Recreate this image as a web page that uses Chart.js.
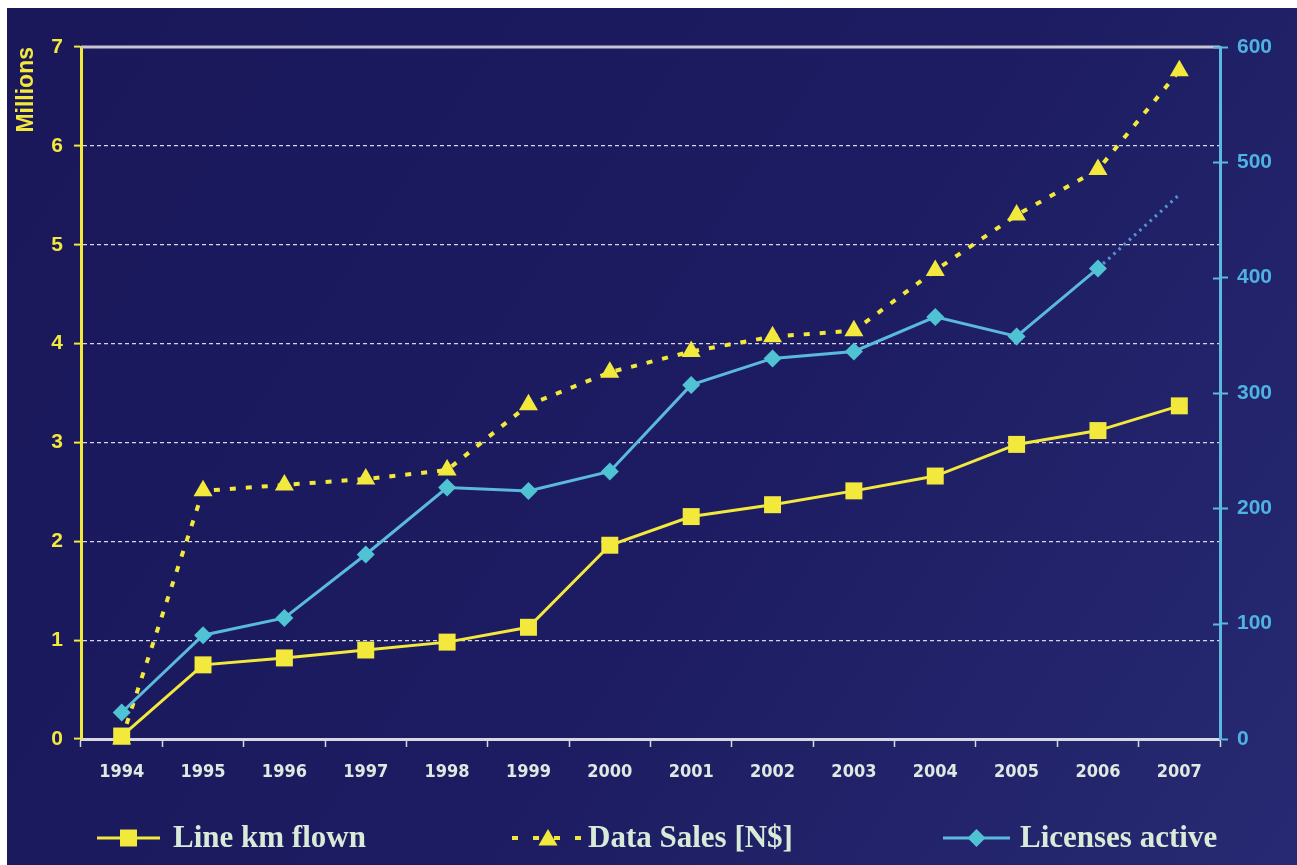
<!DOCTYPE html>
<html>
<head>
<meta charset="utf-8">
<title>Line km flown, Data Sales and Licenses active 1994-2007</title>
<script src="https://cdn.jsdelivr.net/npm/chart.js@4.4.1/dist/chart.umd.min.js"></script>
<style>
  html, body { margin: 0; padding: 0; background: #ffffff; }
  canvas { display: block; }
</style>
</head>
<body>
<canvas id="chart" width="1297" height="865"></canvas>
<script>
// ---- data ----
const years = ['1994', '1995', '1996', '1997', '1998', '1999', '2000',
               '2001', '2002', '2003', '2004', '2005', '2006', '2007'];

// millions (left axis)
const lineKmFlown = [0.03, 0.75, 0.82, 0.90, 0.98, 1.13, 1.96,
                     2.25, 2.37, 2.51, 2.66, 2.98, 3.12, 3.37];
const dataSales   = [0.00, 2.51, 2.57, 2.63, 2.72, 3.38, 3.71,
                     3.92, 4.07, 4.13, 4.74, 5.30, 5.76, 6.76];

// count (right axis)
const licensesActive = [23, 90, 105, 160, 218, 215, 232,
                        307, 330, 336, 366, 349, 408, null];
const licensesTrend  = [null, null, null, null, null, null, null,
                        null, null, null, null, null, 408, 472];

const leftTicks  = [0, 1, 2, 3, 4, 5, 6, 7];
const rightTicks = [0, 100, 200, 300, 400, 500, 600];

const seriesNames = ['Line km flown', 'Data Sales [N$]', 'Licenses active'];

// ---- styles ----
const YELLOW = '#f2e93c';
const BLUE_LINE = '#5bb9dd';
const BLUE_MARK = '#4fc3d4';
const BLUE_TREND = '#5393d8';
const BLUE_TEXT = '#4fb2e2';
const PALE_TEXT = '#d8ead8';
const sansFont = '"Liberation Sans", Arial, sans-serif';
const narrowFont = '"Liberation Sans Narrow", "Arial Narrow", "DejaVu Sans Condensed", "Liberation Sans", sans-serif';
const serifFont = '"Liberation Serif", "Times New Roman", serif';

// navy backdrop with a thin white margin on top and left
const backdrop = {
  id: 'backdrop',
  beforeDraw(chart) {
    const { ctx, width, height } = chart;
    ctx.save();
    ctx.fillStyle = '#ffffff';
    ctx.fillRect(0, 0, width, height);
    const g = ctx.createLinearGradient(7, 8, width, height);
    g.addColorStop(0, '#1a175a');
    g.addColorStop(0.55, '#1d1c62');
    g.addColorStop(1, '#272a72');
    ctx.fillStyle = g;
    ctx.fillRect(7, 8, width - 7, height - 8);
    ctx.restore();
  }
};

// solid top frame line and the inner half of the right-axis tick marks
const frame = {
  id: 'frame',
  beforeDatasetsDraw(chart) {
    const { ctx, chartArea } = chart;
    ctx.save();
    ctx.strokeStyle = '#c6c6d2';
    ctx.lineWidth = 3;
    ctx.beginPath();
    ctx.moveTo(chartArea.left, chartArea.top);
    ctx.lineTo(chartArea.right, chartArea.top);
    ctx.stroke();

    const yr = chart.scales.yRight;
    ctx.strokeStyle = BLUE_LINE;
    ctx.lineWidth = 2;
    rightTicks.forEach(v => {
      if (v === 0) return;
      const py = Math.round(yr.getPixelForValue(v)) + 0.5;
      ctx.beginPath();
      ctx.moveTo(chartArea.right - 7, py);
      ctx.lineTo(chartArea.right, py);
      ctx.stroke();
    });
    ctx.restore();
  }
};

function drawMarker(ctx, style, x, y, r, color) {
  ctx.save();
  ctx.fillStyle = color;
  ctx.beginPath();
  if (style === 'rect') {
    const s = Math.SQRT1_2 * r;
    ctx.rect(x - s, y - s, 2 * s, 2 * s);
  } else if (style === 'triangle') {
    let a = 0;
    ctx.moveTo(x + Math.sin(a) * r, y - Math.cos(a) * r);
    a += 2 * Math.PI / 3;
    ctx.lineTo(x + Math.sin(a) * r, y - Math.cos(a) * r);
    a += 2 * Math.PI / 3;
    ctx.lineTo(x + Math.sin(a) * r, y - Math.cos(a) * r);
    ctx.closePath();
  } else if (style === 'rectRot') {
    ctx.moveTo(x, y - r);
    ctx.lineTo(x + r, y);
    ctx.lineTo(x, y + r);
    ctx.lineTo(x - r, y);
    ctx.closePath();
  }
  ctx.fill();
  ctx.restore();
}

// legend row along the bottom: line sample, marker, name
const legendRow = {
  id: 'legendRow',
  afterDraw(chart) {
    const ctx = chart.ctx;
    const y = 838;
    const slots = [
      { ds: 0, x0: 97,  x1: 160,  tx: 173 },
      { ds: 1, x0: 512, x1: 584,  tx: 588 },
      { ds: 2, x0: 943, x1: 1010, tx: 1020 }
    ];
    slots.forEach(s => {
      const d = chart.data.datasets[s.ds];
      ctx.save();
      ctx.strokeStyle = d.borderColor;
      ctx.lineWidth = d.borderWidth;
      ctx.setLineDash(s.ds === 1 ? [6, 15] : (d.borderDash || []));
      ctx.beginPath();
      ctx.moveTo(s.x0, y);
      ctx.lineTo(s.x1, y);
      ctx.stroke();
      ctx.restore();
      drawMarker(ctx, d.pointStyle, (s.x0 + s.x1) / 2, s.ds === 1 ? y + 2 : y,
                 d.pointRadius, d.pointBackgroundColor);
      ctx.save();
      ctx.font = 'bold 31px ' + serifFont;
      ctx.fillStyle = PALE_TEXT;
      ctx.textBaseline = 'middle';
      ctx.textAlign = 'left';
      ctx.fillText(seriesNames[s.ds], s.tx, y + 1);
      ctx.restore();
    });
  }
};

new Chart(document.getElementById('chart'), {
  type: 'line',
  data: {
    labels: years,
    datasets: [
      {
        label: seriesNames[0],
        data: lineKmFlown,
        yAxisID: 'yLeft',
        borderColor: YELLOW,
        borderWidth: 3,
        pointStyle: 'rect',
        pointRadius: 12,
        pointBackgroundColor: YELLOW,
        pointBorderWidth: 0,
        clip: false,
        order: 0
      },
      {
        label: seriesNames[1],
        data: dataSales,
        yAxisID: 'yLeft',
        borderColor: YELLOW,
        borderWidth: 4,
        borderDash: [6, 10],
        pointStyle: 'triangle',
        pointRadius: 11,
        pointBackgroundColor: YELLOW,
        pointBorderWidth: 0,
        clip: false,
        order: 2
      },
      {
        label: seriesNames[2],
        data: licensesActive,
        yAxisID: 'yRight',
        borderColor: BLUE_LINE,
        borderWidth: 3,
        pointStyle: 'rectRot',
        pointRadius: 9,
        pointBackgroundColor: BLUE_MARK,
        pointBorderWidth: 0,
        clip: false,
        order: 1
      },
      {
        label: 'trend',
        data: licensesTrend,
        yAxisID: 'yRight',
        borderColor: BLUE_TREND,
        borderWidth: 3.2,
        borderDash: [2.5, 4.5],
        pointRadius: 0,
        clip: false,
        order: 3
      }
    ]
  },
  options: {
    responsive: false,
    animation: false,
    layout: { padding: { left: 7, top: 47, right: 0, bottom: 0 } },
    plugins: {
      legend: { display: false },
      tooltip: { enabled: false }
    },
    scales: {
      x: {
        offset: true,
        afterFit: s => { s.height = 126; },
        border: { display: true, color: '#d6d8e2', width: 3 },
        grid: {
          offset: true,
          drawOnChartArea: false,
          drawTicks: true,
          tickLength: 8,
          tickWidth: 1.5,
          tickColor: '#d6d8e2'
        },
        ticks: {
          color: '#dfe9e2',
          padding: 15,
          maxRotation: 0,
          font: { family: narrowFont, weight: 'bold', size: 18 }
        }
      },
      yLeft: {
        position: 'left',
        min: 0,
        max: 7,
        afterFit: s => { s.width = 74; },
        afterBuildTicks: s => { s.ticks = leftTicks.map(v => ({ value: v })); },
        border: { display: true, color: YELLOW, width: 3, dash: [4, 3] },
        grid: {
          drawOnChartArea: true,
          color: ctx => (ctx.tick && (ctx.tick.value === 0 || ctx.tick.value === 7))
            ? 'rgba(0,0,0,0)' : '#d6d6ea',
          lineWidth: 1.2,
          tickLength: 7,
          tickWidth: 2,
          tickColor: YELLOW
        },
        ticks: {
          color: YELLOW,
          padding: 11,
          font: { family: sansFont, weight: 'bold', size: 21 }
        }
        ,
        title: {
          display: true,
          text: 'Millions',
          align: 'end',
          color: YELLOW,
          padding: { top: 6, bottom: 0 },
          font: { family: sansFont, weight: 'bold', size: 23 }
        }
      },
      yRight: {
        position: 'right',
        min: 0,
        max: 600,
        afterFit: s => { s.width = 77; },
        afterBuildTicks: s => { s.ticks = rightTicks.map(v => ({ value: v })); },
        border: { display: true, color: BLUE_LINE, width: 3 },
        grid: {
          drawOnChartArea: false,
          tickLength: 8,
          tickWidth: 2,
          tickColor: BLUE_LINE
        },
        ticks: {
          color: BLUE_TEXT,
          padding: 9,
          font: { family: sansFont, weight: 'bold', size: 21 }
        }
      }
    }
  },
  plugins: [backdrop, frame, legendRow]
});
</script>
</body>
</html>
